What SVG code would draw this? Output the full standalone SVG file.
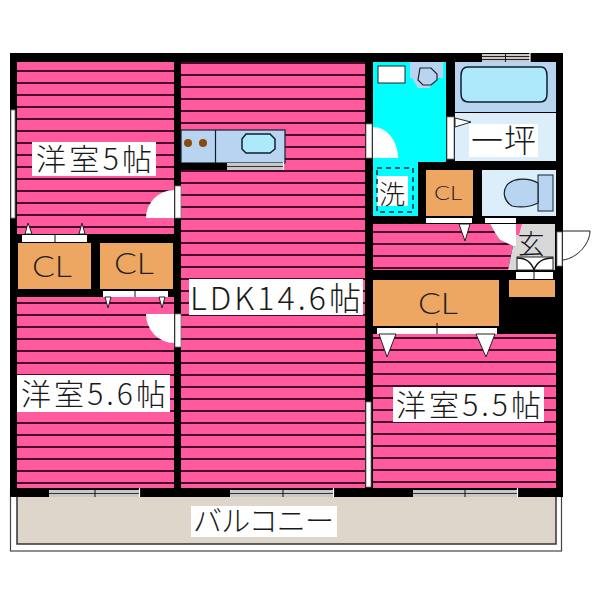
<svg xmlns="http://www.w3.org/2000/svg" width="600" height="600" viewBox="0 0 600 600">
<style>
.t{font-family:"Noto Sans CJK JP","Noto Sans",sans-serif;font-weight:300;fill:#1a1a1a}
.cl{font-family:"Lato","Noto Sans",sans-serif;font-weight:300;fill:#222}
.w{fill:#fff}
.o{fill:#eea762}
.sl{fill:#fff;stroke:#777;stroke-width:.8}
.d{fill:#fff;stroke:#222;stroke-width:1}
.fx{fill:#b8d4f0;stroke:#10202c;stroke-width:1.2}
.win{fill:#c8c8c8}
.wl{stroke:#fff;stroke-width:1.2}
</style>
<defs>
<pattern id="s10" width="12" height="12" patternUnits="userSpaceOnUse" y="10"><rect width="12" height="12" fill="#ff5a9e"/><rect width="12" height="2" fill="#4a0a2c"/></pattern>
<pattern id="s2" width="12" height="12" patternUnits="userSpaceOnUse" y="2"><rect width="12" height="12" fill="#ff5a9e"/><rect width="12" height="2" fill="#4a0a2c"/></pattern>
<pattern id="s1" width="12" height="12" patternUnits="userSpaceOnUse" y="1"><rect width="12" height="12" fill="#ff5a9e"/><rect width="12" height="2" fill="#4a0a2c"/></pattern>
<pattern id="s3" width="12" height="12" patternUnits="userSpaceOnUse" y="3"><rect width="12" height="12" fill="#ff5a9e"/><rect width="12" height="2" fill="#4a0a2c"/></pattern>
</defs>
<rect width="600" height="600" fill="#fff"/>

<g id="balcony">
<rect x="10.500" y="490" width="551" height="61" fill="#fff" stroke="#444" stroke-width="1.200"/>
<rect x="17" y="490" width="539" height="54" fill="#ded5cb" stroke="#333" stroke-width="1.500"/>
<rect x="191" y="506" width="146" height="31" class="w"/>
<text class="t" x="193" y="532" font-size="29" textLength="141" lengthAdjust="spacing">バルコニー</text>
</g>

<rect id="walls" x="10" y="53" width="553" height="444" fill="#000"/>

<g id="room-west-north">
<rect x="17" y="62" width="157" height="172" fill="url(#s10)"/>
<path d="M146 218A28 28 0 0 1 174 190V218Z" class="w"/>
<rect x="32" y="142" width="124" height="34" class="w"/>
<text class="t" x="36" y="170" font-size="30" textLength="116" lengthAdjust="spacing">洋室5帖</text>
</g>

<g id="room-west-south">
<rect x="17" y="297" width="157" height="191" fill="url(#s2)"/>
<path d="M146 314H174V343A28 29 0 0 1 146 314Z" class="w"/>
<rect x="17" y="375" width="153" height="37" class="w"/>
<text class="t" x="21" y="405" font-size="30" textLength="145" lengthAdjust="spacing">洋室5.6帖</text>
</g>

<g id="closet-1">
<rect x="18" y="243" width="73" height="46" class="o"/>
<text class="cl" x="32" y="277" font-size="29" textLength="40" lengthAdjust="spacingAndGlyphs">CL</text>
<rect x="22" y="235" width="65" height="7" class="w"/>
<path d="M55 235V242" stroke="#111" stroke-width="1"/>
<path d="M25 234L28 223L32 234ZM79 234L82 223L85 234Z" class="d"/>
</g>

<g id="closet-2">
<rect x="100" y="243" width="73" height="46" class="o"/>
<text class="cl" x="114" y="274" font-size="29" textLength="40" lengthAdjust="spacingAndGlyphs">CL</text>
<rect x="103" y="291" width="65" height="6" class="w"/>
<path d="M135 291V297" stroke="#111" stroke-width="1"/>
<path d="M105 297L108 308L111 297ZM159 297L162 308L165 297Z" class="d"/>
</g>

<g id="room-ldk">
<rect x="181" y="62" width="184" height="426" fill="url(#s2)"/>
<rect x="189" y="279" width="174" height="36" class="w"/>
<text class="t" x="190" y="310" font-size="32" textLength="171" lengthAdjust="spacing">LDK14.6帖</text>
</g>

<g id="kitchen">
<rect x="181" y="130" width="104" height="33" class="fx"/>
<path d="M215.500 130V163" stroke="#10202c" stroke-width="1.200"/>
<circle cx="188" cy="143" r="4" fill="#8a4a10"/>
<circle cx="203" cy="143" r="4" fill="#8a4a10"/>
<path d="M246 134H270L275 139V149L270 153H246L242 149V139Z" fill="#aee8fb" stroke="#10202c" stroke-width="1.500"/>
<rect x="181" y="163" width="46" height="7" fill="#000"/>
<rect x="227" y="163" width="56" height="7" class="win"/>
<path d="M227 166.500H283" stroke="#333" stroke-width="1"/>
<path d="M283.500 162V170" class="wl"/>
</g>

<g id="washroom">
<path d="M373 62H446V162H418V216H373Z" fill="#0ff"/>
<path d="M373 127A25 31 0 0 1 398 158H373Z" class="w"/>
<rect x="378" y="66" width="27" height="17" class="w" stroke="#222" stroke-width="1"/>
<path d="M410 62H443V78H435L430 88H418L412 78H410Z" fill="#b8d4f0"/>
<path d="M420 68H431L437 74V80L431 85H423L418 80Z" fill="#b8d4f0" stroke="#222" stroke-width="1.200"/>
<rect x="377" y="176" width="31" height="30" class="w"/>
<rect x="377" y="168" width="36" height="44" fill="none" stroke="#123" stroke-width="1.500" stroke-dasharray="5 4"/>
<text class="t" x="392" y="204" font-size="26" text-anchor="middle">洗</text>
</g>

<g id="doors-slits">
<rect x="11" y="110" width="4" height="108" class="sl"/>
<rect x="175" y="186" width="6" height="32" class="sl"/>
<rect x="175" y="314" width="6" height="33" class="sl"/>
<rect x="366" y="124" width="6" height="34" class="sl"/>
<rect x="366" y="402" width="5" height="85" class="sl"/>
<rect x="447" y="117" width="7" height="42" class="sl"/>
<rect x="557" y="232" width="5" height="34" class="sl"/>
</g>

<g id="bath">
<rect x="455" y="62" width="101" height="50" fill="#b8d4f0"/>
<path d="M468 67H541Q547 67 547 76V94Q547 102 540 102H469Q461 102 461 94V76Q461 67 468 67Z" fill="#aee8fb" stroke="#10202c" stroke-width="1.500"/>
<rect x="482" y="54" width="48" height="8" class="win"/>
<path d="M482 56.500H530M482 59.500H530" stroke="#222" stroke-width="1"/>
<path d="M505.500 54V62" stroke="#111" stroke-width="1"/>
<path d="M530 53V62" class="wl"/>
</g>

<g id="utility">
<rect x="455" y="113" width="101" height="48" fill="#ddeefb"/>
<rect x="469" y="124" width="69" height="33" class="w"/>
<path d="M455 118L471 122L455 127Z" class="d"/>
<text class="t" x="471" y="152" font-size="32" textLength="65" lengthAdjust="spacing">一坪</text>
</g>

<g id="closet-3">
<rect x="426" y="170" width="47" height="46" class="o"/>
<text class="cl" x="434" y="200" font-size="19" textLength="28" lengthAdjust="spacingAndGlyphs">CL</text>
<rect x="426" y="218" width="46" height="5" class="w"/>
</g>

<g id="toilet">
<rect x="482" y="170" width="74" height="46" fill="#ddeefb"/>
<rect x="538" y="175" width="15" height="36" fill="#b8d4f0" stroke="#10202c" stroke-width="1"/>
<path d="M538 183C530 178 514 177 507 185C502 192 504 201 512 206C522 208 532 206 538 203Z" fill="#b8d4f0" stroke="#10202c" stroke-width="1.200"/>
<rect x="485" y="218" width="31" height="5" class="w"/>
</g>

<g id="room-east-north">
<path d="M373 224H490L497 236L500 240L513 246L508 270H373Z" fill="url(#s3)"/>
<path d="M459 224H470L465 241Z" class="d"/>
</g>

<g id="entrance">
<path d="M490 224H516V247L513 246L500 240L497 236Z" class="w"/>
<path d="M516 224H555V270H508L513 246L516 247Z" fill="#d8d8d8"/>
<path d="M516 224H522L519 235H516Z" fill="#ff5a9e"/>
<rect x="517" y="257" width="36" height="13" class="w" stroke="#222" stroke-width="1"/>
<path d="M517 258Q530 258 534 270Q538 258 553 258" fill="none" stroke="#111" stroke-width="1.500"/>
<text class="t" x="531" y="254" font-size="27" text-anchor="middle">玄</text>
<rect x="516" y="272" width="37" height="7" class="w"/>
<path d="M534 270V279" stroke="#111" stroke-width="1"/>
<rect x="509" y="280" width="46" height="17" class="o"/>
<path d="M563 231H590C590 243 578 258 563 260" fill="none" stroke="#222" stroke-width="1"/>
</g>

<g id="closet-4">
<rect x="373" y="280" width="126" height="46" class="o"/>
<text class="cl" x="418" y="314" font-size="29" textLength="40" lengthAdjust="spacingAndGlyphs">CL</text>
<rect x="377" y="328" width="120" height="6" class="w"/>
<path d="M437 323V336" stroke="#111" stroke-width="1"/>
</g>

<g id="room-east-south">
<rect x="373" y="334" width="183" height="154" fill="url(#s1)"/>
<path d="M379 334H396L387 357ZM476 334H495L486 357Z" class="d"/>
<rect x="393" y="387" width="151" height="35" class="w"/>
<text class="t" x="396" y="416" font-size="30" textLength="145" lengthAdjust="spacing">洋室5.5帖</text>
</g>

<g id="windows">
<rect x="49" y="490" width="90" height="7" class="win"/>
<path d="M49 493.500H139" stroke="#333" stroke-width="1"/>
<path d="M95 490V497" stroke="#111" stroke-width="1"/>
<path d="M139.500 488V497" class="wl"/>
<rect x="230" y="490" width="103" height="7" class="win"/>
<path d="M230 493.500H333" stroke="#333" stroke-width="1"/>
<path d="M283 490V497" stroke="#111" stroke-width="1"/>
<path d="M333.500 488V497" class="wl"/>
<rect x="413" y="490" width="104" height="7" class="win"/>
<path d="M413 493.500H517" stroke="#333" stroke-width="1"/>
<path d="M465 490V497" stroke="#111" stroke-width="1"/>
<path d="M517.500 488V497" class="wl"/>
</g>
</svg>
